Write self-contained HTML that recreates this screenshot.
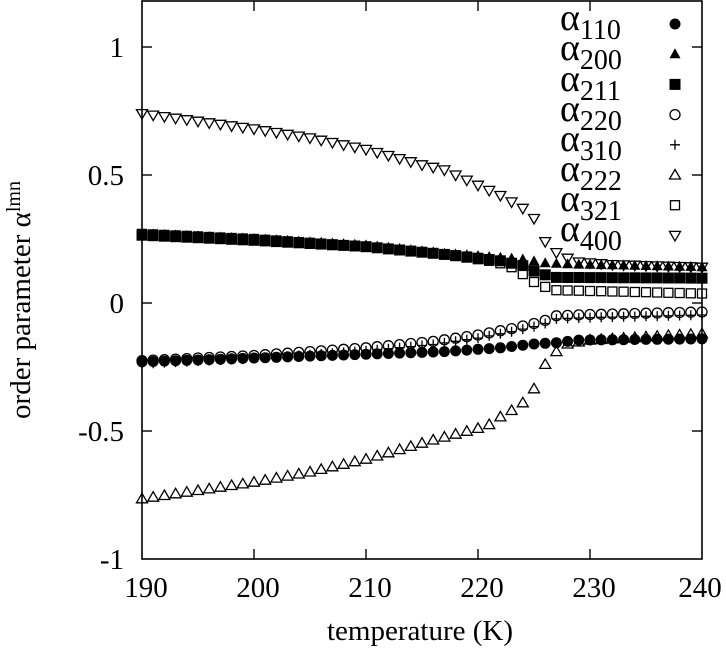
<!DOCTYPE html>
<html><head><meta charset="utf-8"><style>
html,body{margin:0;padding:0;background:#fff;}
svg{display:block;}
text{font-family:"Liberation Serif",serif;fill:#000;}
</style></head><body>
<svg id="s" width="726" height="651" viewBox="0 0 726 651" xmlns="http://www.w3.org/2000/svg">
<rect x="142" y="1" width="560" height="558" fill="none" stroke="#000" stroke-width="1.6"/>
<g stroke="#000" stroke-width="1.4">
<line x1="254" y1="559" x2="254" y2="549"/><line x1="366" y1="559" x2="366" y2="549"/><line x1="478" y1="559" x2="478" y2="549"/><line x1="590" y1="559" x2="590" y2="549"/>
<line x1="254" y1="1" x2="254" y2="11"/><line x1="366" y1="1" x2="366" y2="11"/><line x1="478" y1="1" x2="478" y2="11"/><line x1="590" y1="1" x2="590" y2="11"/>
<line x1="142" y1="47" x2="152" y2="47"/><line x1="142" y1="175" x2="152" y2="175"/><line x1="142" y1="303" x2="152" y2="303"/><line x1="142" y1="431" x2="152" y2="431"/>
<line x1="702" y1="47" x2="692" y2="47"/><line x1="702" y1="175" x2="692" y2="175"/><line x1="702" y1="303" x2="692" y2="303"/><line x1="702" y1="431" x2="692" y2="431"/>
</g>
<g font-size="29" text-anchor="middle">
<text x="146" y="597">190</text><text x="258" y="597">200</text><text x="370" y="597">210</text><text x="482" y="597">220</text><text x="594" y="597">230</text><text x="700" y="597">240</text>
<text x="420" y="640">temperature (K)</text>
</g>
<g font-size="29" text-anchor="end">
<text x="124" y="57">1</text><text x="124" y="185">0.5</text><text x="124" y="313">0</text><text x="124" y="441">-0.5</text><text x="124" y="569">-1</text>
</g>
<text transform="translate(30,300) rotate(-90)" font-size="29" text-anchor="middle">order parameter α<tspan font-size="20" dy="-10">lmn</tspan></text>
<g font-size="38">
<text x="560" y="30">α<tspan font-size="28" dy="9">110</tspan></text>
<text x="560" y="60">α<tspan font-size="28" dy="9">200</tspan></text>
<text x="560" y="91">α<tspan font-size="28" dy="9">211</tspan></text>
<text x="560" y="121">α<tspan font-size="28" dy="9">220</tspan></text>
<text x="560" y="151">α<tspan font-size="28" dy="9">310</tspan></text>
<text x="560" y="181">α<tspan font-size="28" dy="9">222</tspan></text>
<text x="560" y="211">α<tspan font-size="28" dy="9">321</tspan></text>
<text x="560" y="241">α<tspan font-size="28" dy="9">400</tspan></text>
</g>
<g id="pts"></g>
</svg>
<script>
var S={
a110:[[190,-0.23],[200,-0.215],[210,-0.2],[217,-0.19],[222,-0.175],[225,-0.16],[227,-0.155],[229,-0.145],[240,-0.14]],
a200:[[190,0.27],[200,0.25],[210,0.225],[217,0.193],[224,0.17],[226,0.155],[229,0.15],[240,0.14]],
a211:[[190,0.265],[200,0.245],[210,0.22],[217,0.19],[222,0.165],[224,0.146],[225,0.125],[226,0.11],[227,0.1],[240,0.097]],
a220:[[190,-0.225],[200,-0.205],[205,-0.19],[210,-0.175],[216,-0.15],[220,-0.125],[223,-0.1],[225,-0.08],[226,-0.068],[227,-0.05],[230,-0.045],[240,-0.035]],
a222:[[190,-0.765],[200,-0.7],[205,-0.66],[210,-0.61],[216,-0.535],[220,-0.49],[221,-0.475],[222,-0.445],[223,-0.42],[224,-0.39],[225,-0.335],[226,-0.24],[227,-0.19],[228,-0.16],[230,-0.145],[240,-0.12]],
a321:[[190,0.27],[200,0.25],[210,0.22],[217,0.19],[221,0.165],[222,0.155],[223,0.14],[224,0.113],[225,0.082],[226,0.063],[227,0.05],[240,0.037]],
a400:[[190,0.74],[195,0.71],[200,0.68],[205,0.645],[210,0.6],[215,0.54],[217,0.52],[220,0.46],[222,0.42],[224,0.37],[225,0.33],[226,0.24],[227,0.197],[228,0.175],[229,0.16],[232,0.15],[240,0.14]]
};
function f(k,T){var a=S[k];for(var i=0;i<a.length-1;i++){if(T<=a[i+1][0]){var t=(T-a[i][0])/(a[i+1][0]-a[i][0]);return a[i][1]+t*(a[i+1][1]-a[i][1]);}}return a[a.length-1][1];}
function X(T){return 142+(T-190)*11.2;}
function Y(v){return 303-v*256;}
function r(n){return Math.round(n*10)/10;}
var h='';
function sym(t,x,y){
 x=+x;y=+y;
 if(t=='cf')return '<circle cx="'+x+'" cy="'+y+'" r="5.5" fill="#000"/>';
 if(t=='co')return '<circle cx="'+x+'" cy="'+y+'" r="5" fill="none" stroke="#000" stroke-width="1.3"/>';
 if(t=='tf')return '<path d="M'+x+' '+r(y-6)+'L'+r(x+5.5)+' '+r(y+4)+'L'+r(x-5.5)+' '+r(y+4)+'Z" fill="#000"/>';
 if(t=='to')return '<path d="M'+x+' '+r(y-5.5)+'L'+r(x+5.5)+' '+r(y+4)+'L'+r(x-5.5)+' '+r(y+4)+'Z" fill="none" stroke="#000" stroke-width="1.3"/>';
 if(t=='td')return '<path d="M'+x+' '+r(y+5.5)+'L'+r(x+5.5)+' '+r(y-4)+'L'+r(x-5.5)+' '+r(y-4)+'Z" fill="none" stroke="#000" stroke-width="1.3"/>';
 if(t=='sf')return '<rect x="'+r(x-5.5)+'" y="'+r(y-5.5)+'" width="11" height="11" fill="#000"/>';
 if(t=='so')return '<rect x="'+r(x-4.5)+'" y="'+r(y-4.5)+'" width="9" height="9" fill="none" stroke="#000" stroke-width="1.3"/>';
 if(t=='p')return '<path d="M'+r(x-5)+' '+y+'H'+r(x+5)+'M'+x+' '+r(y-5)+'V'+r(y+5)+'" stroke="#000" stroke-width="1.3"/>';
}
var L=[['a110','cf'],['a200','tf'],['a211','sf'],['a220','co'],['a310','p'],['a222','to'],['a321','so'],['a400','td']];
for(var j=0;j<L.length;j++){
 for(var T=190;T<=240;T++){
  var v=L[j][0]=='a310'?f('a220',T)-0.012:f(L[j][0],T);
  h+=sym(L[j][1],r(X(T)),r(Y(v)));
 }
 h+=sym(L[j][1],675,r(24+j*30.2));
}
document.getElementById('pts').innerHTML=h;
</script>
</body></html>
